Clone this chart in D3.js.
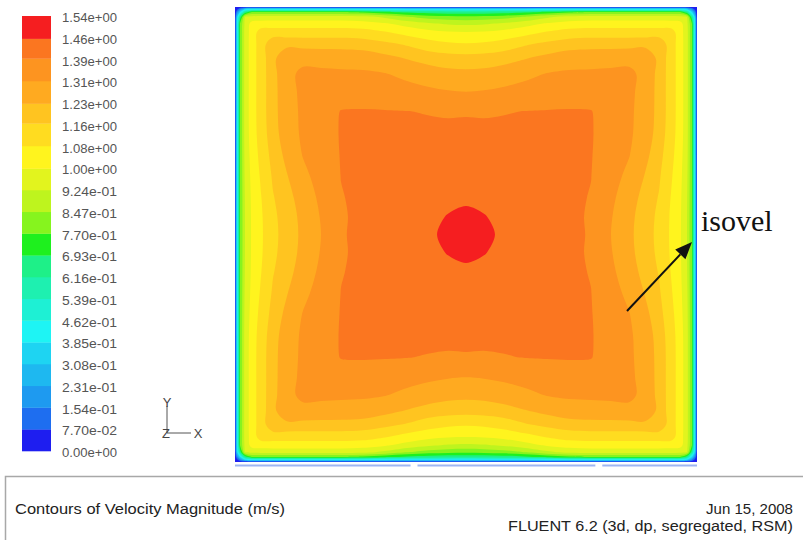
<!DOCTYPE html>
<html><head><meta charset="utf-8">
<script src="https://cdn.jsdelivr.net/npm/d3@7"></script>
<style>body{margin:0;background:#fff;} svg{display:block}</style>
</head><body>
<svg id="c" width="803" height="540"></svg>
<script>
// ---- data ----
const levels = [0, 0.077, 0.154, 0.231, 0.308, 0.385, 0.462, 0.539, 0.616, 0.693, 0.770, 0.847, 0.924, 1.00, 1.08, 1.16, 1.23, 1.31, 1.39, 1.46, 1.54];
const levelLabels = ["1.54e+00","1.46e+00","1.39e+00","1.31e+00","1.23e+00","1.16e+00","1.08e+00","1.00e+00","9.24e-01","8.47e-01","7.70e-01","6.93e-01","6.16e-01","5.39e-01","4.62e-01","3.85e-01","3.08e-01","2.31e-01","1.54e-01","7.70e-02","0.00e+00"];
const bandColors = ["#1e1ef0","#1e6ef0","#1e9af0","#1eb8f0","#1ed4f2","#1ef4f4","#1ef0d4","#1ef0b0","#1ef088","#1ef01e",
                    "#86f41e","#bef41e","#e2f41e","#fff41e","#ffdc20","#ffc420","#ffaa20","#fd9420","#fb7620","#f51e20"];
// sample positions (fraction of half-width, from wall to duct centre)
const gridPos = [0, 0.0087, 0.0216, 0.0433, 0.0736, 0.1126, 0.1645, 0.2251, 0.2944, 0.3723, 0.4589, 0.5541, 0.6494, 0.7446, 0.8398, 0.9221, 1];
// velocity magnitude (m/s), top-left quarter: rows = distance from top wall, cols = distance from left wall
const quarterGrid = [
 [0,0,0,0,0,0,0,0,0,0,0,0,0,0,0,0,0],
 [0,0.04,0.15,0.33,0.383,0.383,0.383,0.383,0.383,0.383,0.383,0.382,0.376,0.369,0.364,0.361,0.36],
 [0,0.15,0.35,0.627,0.77,0.77,0.77,0.77,0.77,0.77,0.77,0.75,0.704,0.667,0.645,0.637,0.634],
 [0,0.33,0.627,0.93,0.945,0.954,0.954,0.954,0.954,0.954,0.954,0.946,0.909,0.85,0.811,0.795,0.789],
 [0,0.383,0.77,0.945,1.03,1.037,1.04,1.04,1.04,1.04,1.04,1.033,1.009,0.972,0.937,0.916,0.909],
 [0,0.383,0.77,0.954,1.037,1.12,1.123,1.124,1.124,1.124,1.124,1.117,1.089,1.054,1.026,1.011,1.007],
 [0,0.383,0.77,0.954,1.04,1.123,1.215,1.211,1.208,1.207,1.207,1.201,1.18,1.153,1.116,1.095,1.088],
 [0,0.383,0.77,0.954,1.04,1.124,1.211,1.29,1.282,1.277,1.274,1.269,1.25,1.226,1.204,1.193,1.189],
 [0,0.383,0.77,0.954,1.04,1.124,1.208,1.282,1.333,1.33,1.326,1.324,1.314,1.289,1.265,1.251,1.247],
 [0,0.383,0.77,0.954,1.04,1.124,1.207,1.277,1.33,1.363,1.363,1.362,1.354,1.342,1.326,1.315,1.31],
 [0,0.383,0.77,0.954,1.04,1.124,1.207,1.274,1.326,1.363,1.392,1.394,1.393,1.391,1.387,1.384,1.385],
 [0,0.384,0.77,0.953,1.038,1.12,1.202,1.269,1.324,1.362,1.394,1.407,1.405,1.404,1.403,1.403,1.404],
 [0,0.387,0.77,0.947,1.03,1.106,1.187,1.25,1.314,1.354,1.393,1.405,1.421,1.419,1.419,1.42,1.42],
 [0,0.391,0.77,0.939,1.022,1.09,1.17,1.226,1.289,1.342,1.391,1.404,1.419,1.435,1.435,1.436,1.435],
 [0,0.396,0.77,0.93,1.016,1.077,1.155,1.204,1.265,1.326,1.387,1.403,1.419,1.435,1.449,1.45,1.449],
 [0,0.399,0.77,0.926,1.013,1.07,1.145,1.193,1.251,1.315,1.384,1.403,1.42,1.436,1.45,1.462,1.475],
 [0,0.4,0.77,0.924,1.012,1.068,1.142,1.189,1.247,1.31,1.385,1.404,1.42,1.435,1.449,1.475,1.50]
];
const titleText = "Contours of Velocity Magnitude (m/s)";
const dateText = "Jun 15, 2008";
const solverText = "FLUENT 6.2 (3d, dp, segregated, RSM)";
const annotationText = "isovel";

// ---- layout ----
const svg = d3.select("#c");
const X0 = 235, X1 = 697, Y0 = 7, Y1 = 462;
const n = gridPos.length * 2 - 1, h = gridPos.length - 1;
const fullFrac = d3.range(n).map(k => k <= h ? gridPos[k] / 2 : 1 - gridPos[n - 1 - k] / 2);
const idx = d3.range(n).map(k => k + 0.5);
const xs = d3.scaleLinear().domain(idx).range(fullFrac.map(f => X0 + f * (X1 - X0))).clamp(true);
const ys = d3.scaleLinear().domain(idx).range(fullFrac.map(f => Y0 + f * (Y1 - Y0))).clamp(true);
const values = [];
for (let j = 0; j < n; j++) for (let i = 0; i < n; i++) {
  const qi = i <= h ? i : n - 1 - i, qj = j <= h ? j : n - 1 - j;
  values.push(quarterGrid[qj][qi]);
}

const defs = svg.append("defs");
defs.append("clipPath").attr("id", "plotclip").append("rect")
  .attr("x", X0).attr("y", Y0).attr("width", X1 - X0).attr("height", Y1 - Y0);

const plot = svg.append("g").attr("clip-path", "url(#plotclip)");
plot.append("rect").attr("x", X0).attr("y", Y0).attr("width", X1 - X0).attr("height", Y1 - Y0)
  .attr("fill", bandColors[0]);

const contours = d3.contours().size([n, n]).thresholds(levels.slice(1, 20))(values);
const line = d3.line().curve(d3.curveCatmullRomClosed.alpha(0.5));
contours.forEach((c, k) => {
  let dstr = "";
  c.coordinates.forEach(poly => poly.forEach(ring => {
    const pts = ring.slice(0, -1).map(p => [xs(p[0]), ys(p[1])]);
    if (pts.length > 2) dstr += line(pts);
  }));
  plot.append("path").attr("d", dstr).attr("fill", bandColors[k + 1]).attr("fill-rule", "evenodd");
});

// pale boundary line below the plot
const baseSegs = [[0, 0.38], [0.395, 0.78], [0.795, 1]];
svg.selectAll("line.base").data(baseSegs).join("line")
  .attr("x1", d => X0 + d[0] * (X1 - X0)).attr("x2", d => X0 + d[1] * (X1 - X0))
  .attr("y1", Y1 + 3.5).attr("y2", Y1 + 3.5).attr("stroke", "#9fb6f2").attr("stroke-width", 2);

// ---- legend ----
const LX = 22, LW = 29, LT = 16, LB = 451;
const ly = d3.scaleLinear().domain([levels[levels.length - 1], 0]).range([LT, LB]);
const lg = svg.append("g");
for (let k = 0; k < 20; k++) {
  lg.append("rect").attr("x", LX).attr("y", ly(levels[k + 1])).attr("width", LW)
    .attr("height", ly(levels[k]) - ly(levels[k + 1]) + 0.3).attr("fill", bandColors[k]);
}
levelLabels.forEach((t, k) => {
  const yv = LT + k * (LB - LT) / 20;
  lg.append("text").attr("x", 62).attr("y", yv + 6).text(t)
    .attr("font-family", "Liberation Sans, Arial, sans-serif").attr("font-size", 12)
    .attr("fill", "#555").attr("textLength", 55).attr("lengthAdjust", "spacingAndGlyphs");
});

// ---- axis triad ----
const tg = svg.append("g").attr("stroke", "#555").attr("stroke-width", 1);
tg.append("line").attr("x1", 167).attr("y1", 406).attr("x2", 167).attr("y2", 433);
tg.append("line").attr("x1", 167).attr("y1", 433).attr("x2", 191).attr("y2", 433);
const tf = {"font-family": "Liberation Sans, Arial, sans-serif", "font-size": 13, "fill": "#444"};
[["Y", 167, 407], ["X", 198, 438], ["Z", 166, 438]].forEach(([t, x, y]) => {
  const e = svg.append("text").attr("x", x).attr("y", y).attr("text-anchor", "middle").text(t);
  Object.entries(tf).forEach(([a, v]) => e.attr(a, v));
});

// ---- annotation ----
svg.append("text").attr("x", 701).attr("y", 231).text(annotationText)
  .attr("font-family", "Liberation Serif, Times New Roman, serif").attr("font-size", 30).attr("fill", "#111");
const tail = [627, 311], tip = [692, 242];
const ang = Math.atan2(tip[1] - tail[1], tip[0] - tail[0]);
const hl = 17, hw = 7;
const base = [tip[0] - hl * Math.cos(ang), tip[1] - hl * Math.sin(ang)];
svg.append("line").attr("x1", tail[0]).attr("y1", tail[1]).attr("x2", base[0]).attr("y2", base[1])
  .attr("stroke", "#111").attr("stroke-width", 2);
svg.append("path").attr("fill", "#111").attr("d",
  `M${tip[0]},${tip[1]}L${base[0] + hw * Math.sin(ang)},${base[1] - hw * Math.cos(ang)}L${base[0] - hw * Math.sin(ang)},${base[1] + hw * Math.cos(ang)}Z`);

// ---- footer ----
svg.append("rect").attr("x", 5.5).attr("y", 476.5).attr("width", 820).attr("height", 90)
  .attr("fill", "none").attr("stroke", "#a8a8a8").attr("stroke-width", 1.5);
const ff = "Liberation Sans, Arial, sans-serif";
svg.append("text").attr("x", 15).attr("y", 514).text(titleText).attr("font-family", ff).attr("font-size", 14)
  .attr("fill", "#222").attr("textLength", 270).attr("lengthAdjust", "spacingAndGlyphs");
svg.append("text").attr("x", 793).attr("y", 514).attr("text-anchor", "end").text(dateText).attr("font-family", ff)
  .attr("font-size", 14).attr("fill", "#222").attr("textLength", 87).attr("lengthAdjust", "spacingAndGlyphs");
svg.append("text").attr("x", 793).attr("y", 531).attr("text-anchor", "end").text(solverText).attr("font-family", ff)
  .attr("font-size", 14).attr("fill", "#222").attr("textLength", 285).attr("lengthAdjust", "spacingAndGlyphs");
</script>
</body></html>
